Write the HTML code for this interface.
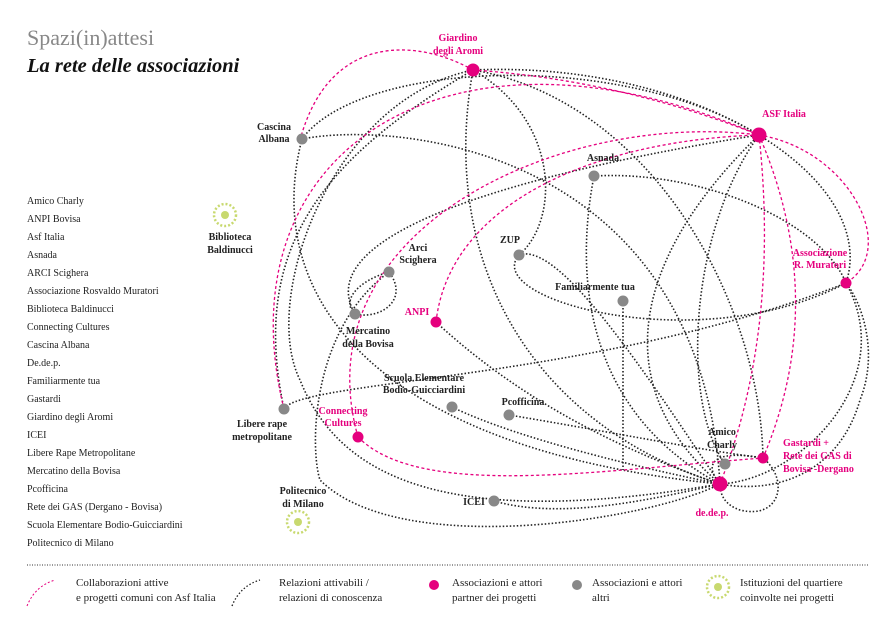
<!DOCTYPE html>
<html><head><meta charset="utf-8"><style>
body{margin:0;background:#fff;width:895px;height:633px;overflow:hidden;font-family:"Liberation Serif",serif}
svg text{font-family:"Liberation Serif",serif}
</style></head><body>
<svg width="895" height="633" viewBox="0 0 895 633" xmlns="http://www.w3.org/2000/svg">
<text x="27" y="45" font-size="22" fill="#888">Spazi(in)attesi</text>
<text x="27" y="72" font-size="20.5" font-style="italic" font-weight="bold" fill="#111">La rete delle associazioni</text>
<g font-size="10" fill="#222">
<text x="27" y="204">Amico Charly</text><text x="27" y="222">ANPI Bovisa</text><text x="27" y="240">Asf Italia</text>
<text x="27" y="258">Asnada</text><text x="27" y="276">ARCI Scighera</text><text x="27" y="294">Associazione Rosvaldo Muratori</text>
<text x="27" y="312">Biblioteca Baldinucci</text><text x="27" y="330">Connecting Cultures</text><text x="27" y="348">Cascina Albana</text>
<text x="27" y="366">De.de.p.</text><text x="27" y="384">Familiarmente tua</text><text x="27" y="402">Gastardi</text>
<text x="27" y="420">Giardino degli Aromi</text><text x="27" y="438">ICEI</text><text x="27" y="456">Libere Rape Metropolitane</text>
<text x="27" y="474">Mercatino della Bovisa</text><text x="27" y="492">Pcofficina</text><text x="27" y="510">Rete dei GAS (Dergano - Bovisa)</text>
<text x="27" y="528">Scuola Elementare Bodio-Guicciardini</text><text x="27" y="546">Politecnico di Milano</text>
</g>
<g fill="none" stroke="#222" stroke-width="1.6" stroke-dasharray="1.5 2">
<path d="M302,139 C400,120 700,150 720,484"/>
<path d="M302,139 C260,300 380,450 720,484"/>
<path d="M302,139 C360,60 620,50 759,135"/>
<path d="M473,70 C330,100 260,300 300,380 C340,480 450,530 720,484"/>
<path d="M473,70 C560,120 560,220 519,255"/>
<path d="M473,70 C440,250 520,420 720,484"/>
<path d="M473,70 C650,100 760,300 763,458"/>
<path d="M473,70 C700,60 880,180 846,283"/>
<path d="M759,135 C600,160 300,220 355,314"/>
<path d="M759,135 C640,250 600,380 720,484"/>
<path d="M759,135 C690,230 680,400 725,464"/>
<path d="M594,176 C700,170 820,220 846,283"/>
<path d="M594,176 C570,300 600,420 720,484"/>
<path d="M519,255 C480,300 700,360 846,283"/>
<path d="M519,255 C560,240 650,380 720,484"/>
<path d="M389,272 C360,280 340,300 355,314 C380,320 410,300 389,272"/>
<path d="M389,272 C310,330 310,450 320,480 C400,560 650,520 720,484"/>
<path d="M436,322 C520,400 620,450 720,484"/>
<path d="M623,301 L623,470"/>
<path d="M846,283 C900,380 800,480 720,484"/>
<path d="M284,409 C300,380 600,380 846,283"/>
<path d="M284,409 C250,250 320,160 473,70"/>
<path d="M452,407 C520,440 650,470 720,484"/>
<path d="M509,415 C600,430 700,450 763,458"/>
<path d="M494,501 C560,520 650,500 720,484"/>
<path d="M720,484 C700,460 720,450 763,458 C790,480 780,520 740,510 C725,505 720,495 720,484"/>
<path d="M720,484 C780,495 840,470 860,400 C880,350 860,300 846,283"/>
</g>
<g fill="none" stroke="#e5007e" stroke-width="1.3" stroke-dasharray="3 2.5">
<path d="M284,409 C220,150 450,0 759,135"/>
<path d="M473,70 Q620,80 759,135"/>
<path d="M358,437 C300,230 560,110 759,135"/>
<path d="M436,322 C450,200 600,140 759,135"/>
<path d="M759,135 C850,150 900,250 846,283"/>
<path d="M759,135 Q830,300 763,458"/>
<path d="M759,135 Q780,330 720,484"/>
<path d="M358,437 C420,500 600,470 763,458"/>
<path d="M473,70 C420,40 330,30 300,140"/>
</g>
<g fill="#888">
<circle cx="302" cy="139" r="5.5"/><circle cx="594" cy="176" r="5.5"/><circle cx="519" cy="255" r="5.5"/>
<circle cx="389" cy="272" r="5.5"/><circle cx="355" cy="314" r="5.5"/><circle cx="623" cy="301" r="5.5"/>
<circle cx="284" cy="409" r="5.5"/><circle cx="452" cy="407" r="5.5"/><circle cx="509" cy="415" r="5.5"/>
<circle cx="725" cy="464" r="5.5"/><circle cx="494" cy="501" r="5.5"/>
</g>
<g fill="#e5007e">
<circle cx="473" cy="70" r="6.5"/><circle cx="759" cy="135" r="7.5"/><circle cx="436" cy="322" r="5.5"/>
<circle cx="846" cy="283" r="5.5"/><circle cx="358" cy="437" r="5.5"/><circle cx="763" cy="458" r="5.5"/>
<circle cx="720" cy="484" r="7.5"/>
</g>
<g>
<circle cx="225" cy="215" r="11" fill="none" stroke="#c8d96f" stroke-width="2.5" stroke-dasharray="2 2"/><circle cx="225" cy="215" r="4" fill="#c8d96f"/>
<circle cx="298" cy="522" r="11" fill="none" stroke="#c8d96f" stroke-width="2.5" stroke-dasharray="2 2"/><circle cx="298" cy="522" r="4" fill="#c8d96f"/>
</g>
<g font-size="10" fill="#222" font-weight="bold">
<text x="274" y="130" text-anchor="middle">Cascina</text><text x="274" y="142" text-anchor="middle">Albana</text>
<text x="230" y="240" text-anchor="middle">Biblioteca</text><text x="230" y="253" text-anchor="middle">Baldinucci</text>
<text x="418" y="251" text-anchor="middle">Arci</text><text x="418" y="263" text-anchor="middle">Scighera</text>
<text x="368" y="334" text-anchor="middle">Mercatino</text><text x="368" y="347" text-anchor="middle">della Bovisa</text>
<text x="603" y="161" text-anchor="middle">Asnada</text>
<text x="510" y="243" text-anchor="middle">ZUP</text>
<text x="595" y="290" text-anchor="middle">Familiarmente tua</text>
<text x="424" y="381" text-anchor="middle">Scuola Elementare</text><text x="424" y="393" text-anchor="middle">Bodio-Guicciardini</text>
<text x="523" y="405" text-anchor="middle">Pcofficina</text>
<text x="262" y="427" text-anchor="middle">Libere rape</text><text x="262" y="440" text-anchor="middle">metropolitane</text>
<text x="303" y="494" text-anchor="middle">Politecnico</text><text x="303" y="507" text-anchor="middle">di Milano</text>
<text x="722" y="435" text-anchor="middle">Amico</text><text x="722" y="448" text-anchor="middle">Charly</text>
<text x="474" y="505" text-anchor="middle">ICEI</text>
</g>
<g font-size="10" fill="#e5007e" font-weight="bold">
<text x="458" y="41" text-anchor="middle">Giardino</text><text x="458" y="54" text-anchor="middle">degli Aromi</text>
<text x="784" y="117" text-anchor="middle">ASF Italia</text>
<text x="820" y="256" text-anchor="middle">Associazione</text><text x="820" y="268" text-anchor="middle">R. Muratori</text>
<text x="417" y="315" text-anchor="middle">ANPI</text>
<text x="343" y="414" text-anchor="middle">Connecting</text><text x="343" y="426" text-anchor="middle">Cultures</text>
<text x="783" y="446">Gastardi +</text><text x="783" y="459">Rete dei GAS di</text><text x="783" y="472">Bovisa -Dergano</text>
<text x="712" y="516" text-anchor="middle">de.de.p.</text>
</g>
<line x1="27" y1="565" x2="868" y2="565" stroke="#333" stroke-width="1" stroke-dasharray="1 1.5"/>
<path d="M27,606 Q35,586 55,580" fill="none" stroke="#e5007e" stroke-width="1" stroke-dasharray="2 2"/>
<path d="M232,606 Q240,586 260,580" fill="none" stroke="#222" stroke-width="1.3" stroke-dasharray="1.5 2"/>
<circle cx="434" cy="585" r="5" fill="#e5007e"/>
<circle cx="577" cy="585" r="5" fill="#888"/>
<circle cx="718" cy="587" r="11" fill="none" stroke="#c8d96f" stroke-width="2.5" stroke-dasharray="2 2"/><circle cx="718" cy="587" r="4" fill="#c8d96f"/>
<g font-size="11" fill="#222">
<text x="76" y="586">Collaborazioni attive</text><text x="76" y="601">e progetti comuni con Asf Italia</text>
<text x="279" y="586">Relazioni  attivabili /</text><text x="279" y="601">relazioni di conoscenza</text>
<text x="452" y="586">Associazioni e attori</text><text x="452" y="601">partner dei progetti</text>
<text x="592" y="586">Associazioni e attori</text><text x="592" y="601">altri</text>
<text x="740" y="586">Istituzioni del quartiere</text><text x="740" y="601">coinvolte nei progetti</text>
</g>
</svg>
</body></html>
